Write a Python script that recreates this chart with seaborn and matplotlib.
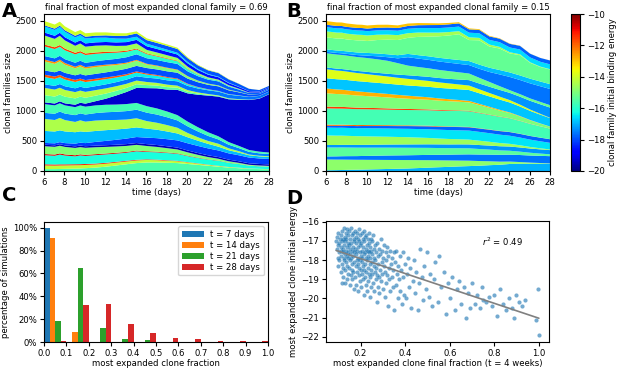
import matplotlib
matplotlib.use("Agg")
import matplotlib.pyplot as plt
import numpy as np
import pandas as pd
import seaborn as sns
from matplotlib.cm import ScalarMappable
from matplotlib.colors import Normalize
from matplotlib.ticker import PercentFormatter

# ---- panels A/B: clonal family sizes (bottom -> top) ----
days = [6, 7, 7.5, 8, 9, 9.5, 10, 11, 12, 13, 14, 15, 16, 17, 18, 19, 20, 21, 22, 23, 24, 25, 26, 27, 28]

energy_a = [-15.6, -14.2, -11.2, -16.2, -10.8, -14.9, -19.5, -18.2, -16.9, -14.4, -17.5, -15.7,
            -19.3,
            -15.5, -14.3, -17.6, -16.4, -11.8, -18.0, -15.0, -12.5, -17.8, -16.0, -11.5, -14.6,
            -18.6, -16.6, -17.9, -14.0]
sizes_a = [
    [40, 40, 42, 44, 48, 50, 55, 65, 80, 100, 120, 140, 150, 150, 145, 140, 125, 110, 95, 80, 65, 55, 45, 40, 35],
    [60, 58, 58, 57, 56, 55, 54, 52, 50, 48, 46, 44, 42, 38, 34, 30, 25, 20, 15, 12, 9, 7, 5, 4, 3],
    [20, 19, 19, 18, 17, 17, 16, 15, 14, 13, 12, 11, 10, 9, 8, 7, 6, 5, 4, 3, 2, 2, 1, 1, 1],
    [150, 145, 162, 146, 131, 145, 134, 140, 140, 136, 134, 141, 123, 122, 120, 117, 100, 90, 83, 83, 67, 58, 45, 41, 42],
    [20, 20, 20, 19, 18, 18, 17, 16, 15, 14, 13, 12, 11, 10, 9, 8, 7, 6, 5, 4, 3, 3, 2, 2, 2],
    [130, 128, 127, 125, 122, 120, 118, 115, 110, 105, 100, 95, 88, 80, 72, 64, 55, 46, 38, 30, 24, 19, 14, 12, 10],
    [25, 25, 25, 25, 26, 26, 26, 27, 28, 29, 30, 30, 31, 31, 31, 31, 31, 30, 29, 28, 27, 26, 25, 25, 25],
    [30, 33, 35, 38, 45, 48, 52, 62, 72, 82, 92, 100, 108, 114, 118, 120, 120, 118, 115, 110, 105, 100, 95, 92, 90],
    [200, 197, 196, 194, 190, 188, 186, 182, 178, 172, 166, 160, 150, 140, 128, 115, 100, 87, 75, 63, 52, 44, 38, 35, 33],
    [200, 191, 206, 189, 171, 184, 171, 173, 168, 158, 151, 152, 125, 116, 106, 95, 71, 57, 48, 48, 32, 24, 13, 10, 13],
    [100, 104, 106, 108, 113, 115, 118, 124, 130, 135, 140, 142, 140, 136, 130, 122, 110, 97, 84, 72, 60, 51, 44, 40, 36],
    [145, 140, 138, 136, 133, 132, 131, 128, 125, 121, 117, 113, 108, 102, 96, 88, 79, 70, 61, 52, 44, 37, 31, 28, 25],
    [30, 30, 32, 34, 40, 45, 50, 70, 100, 150, 200, 250, 300, 335, 365, 420, 470, 540, 610, 660, 711, 765, 830, 880, 972],
    [120, 116, 113, 111, 105, 101, 98, 92, 86, 77, 68, 61, 51, 45, 41, 35, 27, 19, 13, 10, 8, 6, 3, 2, 2],
    [120, 116, 113, 111, 105, 101, 98, 92, 86, 77, 68, 61, 51, 45, 41, 35, 27, 19, 13, 10, 8, 6, 3, 2, 2],
    [60, 61, 62, 62, 63, 64, 65, 66, 67, 68, 70, 71, 72, 72, 72, 72, 70, 66, 62, 62, 60, 55, 45, 42, 40],
    [120, 116, 113, 111, 105, 101, 98, 92, 86, 77, 68, 61, 51, 45, 41, 35, 27, 19, 13, 10, 8, 6, 3, 2, 2],
    [40, 39, 38, 37, 35, 34, 33, 31, 29, 26, 23, 20, 17, 15, 14, 12, 9, 6, 4, 3, 3, 2, 1, 1, 1],
    [70, 72, 73, 74, 76, 77, 78, 81, 84, 87, 90, 92, 92, 92, 94, 96, 85, 79, 74, 76, 62, 50, 35, 29, 30],
    [150, 140, 154, 136, 116, 127, 113, 113, 107, 94, 84, 85, 58, 54, 51, 44, 34, 23, 17, 13, 10, 7, 3, 2, 2],
    [30, 29, 28, 28, 26, 25, 25, 23, 21, 19, 17, 15, 13, 11, 10, 9, 7, 5, 3, 3, 2, 1, 1, 0, 0],
    [60, 62, 63, 64, 67, 68, 70, 74, 78, 84, 90, 92, 92, 91, 92, 93, 80, 73, 66, 66, 50, 38, 23, 17, 20],
    [160, 155, 151, 148, 140, 135, 131, 123, 115, 103, 91, 81, 68, 60, 54, 47, 37, 25, 18, 14, 11, 7, 4, 2, 2],
    [30, 29, 28, 28, 26, 25, 25, 23, 21, 19, 17, 15, 13, 11, 10, 9, 7, 5, 3, 3, 2, 1, 1, 0, 0],
    [150, 140, 154, 136, 116, 127, 113, 113, 107, 94, 84, 85, 58, 54, 51, 44, 34, 23, 17, 13, 10, 7, 3, 2, 2],
    [50, 51, 51, 52, 53, 53, 54, 55, 56, 58, 60, 60, 60, 59, 58, 57, 55, 50, 45, 40, 35, 28, 22, 18, 15],
    [100, 97, 95, 92, 87, 84, 82, 77, 72, 64, 57, 51, 42, 38, 34, 29, 23, 16, 11, 9, 7, 5, 2, 1, 1],
    [20, 22, 23, 24, 27, 28, 30, 34, 38, 44, 50, 55, 60, 62, 63, 63, 62, 60, 60, 60, 55, 48, 38, 24, 20],
    [70, 68, 66, 65, 61, 59, 57, 54, 50, 45, 40, 35, 30, 26, 24, 21, 16, 11, 8, 6, 5, 3, 2, 1, 1],
]

energy_b = [-17.0, -14.8, -17.6, -15.4, -17.3, -14.6, -16.5, -17.8, -12.0, -15.7, -11.5, -15.0,
            -12.8, -16.8, -13.8, -17.3, -15.2, -17.6, -16.9, -15.3, -14.5, -16.6, -17.8, -13.0]
sizes_b = [
    [20, 23, 25, 27, 30, 32, 34, 38, 42, 46, 50, 57, 64, 71, 77, 84, 90, 96, 105, 112, 125, 127, 128, 129, 130],
    [180, 175, 173, 170, 165, 163, 160, 155, 150, 145, 140, 132, 124, 115, 107, 98, 90, 78, 65, 52, 40, 30, 20, 12, 5],
    [50, 54, 56, 58, 61, 63, 65, 70, 74, 77, 80, 84, 88, 92, 96, 101, 105, 108, 111, 113, 115, 117, 118, 119, 120],
    [150, 147, 146, 144, 141, 139, 138, 134, 131, 128, 125, 121, 117, 112, 108, 104, 100, 92, 83, 74, 65, 56, 46, 38, 30],
    [40, 42, 43, 44, 45, 46, 47, 49, 51, 53, 55, 57, 59, 61, 62, 64, 65, 66, 67, 69, 70, 70, 70, 70, 70],
    [160, 155, 153, 150, 145, 143, 140, 135, 130, 125, 120, 113, 106, 98, 91, 85, 80, 72, 63, 54, 45, 36, 26, 18, 10],
    [130, 131, 132, 132, 133, 134, 135, 136, 137, 138, 140, 142, 144, 146, 148, 149, 150, 147, 143, 139, 135, 129, 122, 116, 110],
    [30, 32, 33, 34, 35, 36, 37, 39, 41, 43, 45, 47, 49, 50, 52, 54, 55, 56, 57, 59, 60, 60, 60, 60, 60],
    [20, 19, 18, 18, 17, 17, 16, 15, 14, 13, 12, 11, 10, 9, 8, 7, 6, 5, 5, 4, 3, 3, 2, 2, 2],
    [270, 268, 267, 266, 264, 263, 262, 260, 258, 256, 255, 256, 257, 258, 259, 260, 260, 251, 242, 234, 225, 212, 199, 186, 173],
    [30, 28, 28, 27, 26, 25, 24, 23, 21, 20, 18, 16, 14, 12, 11, 9, 8, 7, 6, 5, 4, 3, 3, 2, 2],
    [220, 214, 211, 208, 201, 198, 195, 189, 183, 176, 170, 165, 160, 155, 150, 145, 140, 126, 112, 98, 85, 71, 56, 43, 30],
    [80, 76, 74, 73, 69, 67, 65, 61, 58, 54, 50, 46, 42, 37, 33, 29, 25, 21, 17, 14, 10, 8, 6, 4, 3],
    [170, 170, 170, 170, 170, 170, 170, 170, 170, 170, 170, 172, 174, 175, 177, 178, 180, 176, 172, 169, 165, 159, 152, 146, 140],
    [150, 145, 143, 140, 135, 133, 130, 125, 120, 115, 110, 104, 98, 92, 86, 80, 75, 66, 57, 49, 40, 31, 22, 14, 5],
    [30, 31, 32, 33, 35, 36, 38, 41, 45, 52, 60, 64, 68, 72, 76, 82, 90, 96, 104, 112, 120, 132, 145, 158, 170],
    [235, 234, 233, 232, 231, 230, 230, 225, 215, 190, 160, 150, 142, 135, 128, 120, 110, 95, 80, 62, 45, 42, 40, 40, 40],
    [25, 27, 28, 29, 33, 35, 40, 50, 60, 80, 140, 140, 140, 140, 140, 140, 140, 150, 165, 195, 220, 235, 250, 260, 270],
    [40, 41, 41, 42, 43, 44, 45, 47, 49, 52, 55, 57, 59, 61, 63, 65, 67, 69, 71, 73, 75, 76, 78, 79, 80],
    [200, 199, 205, 198, 201, 204, 199, 224, 242, 253, 267, 304, 327, 356, 389, 427, 349, 404, 352, 358, 316, 337, 263, 241, 244],
    [100, 98, 97, 96, 94, 93, 91, 88, 85, 81, 77, 72, 67, 62, 57, 52, 46, 40, 33, 27, 20, 15, 10, 7, 5],
    [70, 70, 70, 71, 71, 71, 72, 72, 73, 73, 74, 74, 75, 75, 76, 76, 77, 77, 78, 78, 79, 79, 80, 80, 80],
    [40, 41, 41, 42, 42, 43, 43, 44, 45, 46, 47, 48, 50, 51, 52, 53, 55, 56, 57, 58, 60, 61, 62, 64, 65],
    [60, 59, 58, 57, 55, 54, 52, 49, 46, 43, 40, 36, 32, 28, 24, 20, 16, 13, 10, 7, 5, 3, 2, 1, 1],
]

# ---- panel C: histogram of the most expanded clone fraction ----
bin_edges = [0.0, 0.1, 0.2, 0.3, 0.4, 0.5, 0.6, 0.7, 0.8, 0.9, 1.0]
time_labels = ["t = 7 days", "t = 14 days", "t = 21 days", "t = 28 days"]
pct_t7 = [1.0, 0, 0, 0, 0, 0, 0, 0, 0, 0]
pct_t14 = [0.913, 0.087, 0, 0, 0, 0, 0, 0, 0, 0]
pct_t21 = [0.185, 0.645, 0.125, 0.03, 0.015, 0, 0, 0, 0, 0]
pct_t28 = [0.005, 0.32, 0.335, 0.16, 0.08, 0.038, 0.028, 0.011, 0.007, 0.011]

# ---- panel D: final fraction vs initial energy of the most expanded clone ----
pts_dense = [
    (0.090, -17.0), (0.093, -17.4), (0.095, -16.8), (0.097, -17.9), (0.098, -17.2), (0.100, -16.6),
    (0.100, -18.3), (0.102, -17.6), (0.104, -17.1), (0.105, -18.0), (0.108, -16.9), (0.110, -17.5),
    (0.111, -18.6), (0.112, -16.7), (0.113, -17.3), (0.114, -17.8), (0.115, -19.2), (0.116, -16.5),
    (0.117, -18.2), (0.118, -17.0), (0.119, -17.6), (0.120, -18.9), (0.121, -16.9), (0.122, -17.4),
    (0.123, -18.4), (0.124, -17.9), (0.125, -16.3), (0.126, -17.2), (0.127, -18.0), (0.128, -16.8),
    (0.129, -17.7), (0.130, -19.2), (0.131, -17.0), (0.132, -18.5), (0.133, -16.6), (0.134, -17.5),
    (0.135, -18.1), (0.136, -16.9), (0.137, -17.3), (0.138, -19.0), (0.139, -17.8), (0.140, -16.4),
    (0.141, -18.3), (0.142, -17.1), (0.143, -17.6), (0.144, -18.7), (0.145, -16.7), (0.145, -17.9),
    (0.147, -17.2), (0.148, -18.4), (0.149, -16.5), (0.150, -17.7), (0.151, -19.3), (0.152, -16.9),
    (0.153, -18.0), (0.154, -17.4), (0.155, -18.8), (0.156, -16.3), (0.157, -17.1), (0.158, -17.9),
    (0.159, -18.5), (0.160, -16.7), (0.161, -17.5), (0.162, -19.0), (0.163, -18.2), (0.164, -16.6),
    (0.165, -17.3), (0.166, -18.6), (0.167, -17.8), (0.168, -16.9), (0.169, -19.5), (0.170, -17.6),
    (0.171, -18.1), (0.172, -17.0), (0.174, -16.5), (0.175, -18.9), (0.176, -17.4), (0.177, -18.3),
    (0.178, -16.8), (0.179, -17.7), (0.180, -19.3), (0.181, -17.1), (0.182, -18.0), (0.183, -16.6),
    (0.184, -18.6), (0.185, -17.5), (0.186, -17.9), (0.187, -19.6), (0.188, -16.9), (0.189, -18.2),
    (0.190, -17.3), (0.191, -18.8), (0.192, -17.0), (0.193, -16.4), (0.194, -18.4), (0.195, -17.6),
    (0.196, -19.1), (0.197, -17.2), (0.198, -18.0), (0.199, -16.7), (0.200, -18.5), (0.200, -17.8),
    (0.202, -17.1), (0.203, -19.4), (0.204, -16.6), (0.205, -18.1), (0.206, -17.5), (0.207, -18.7),
    (0.208, -17.9), (0.209, -16.9), (0.210, -19.0), (0.211, -17.3), (0.212, -18.3), (0.213, -16.5),
    (0.214, -17.7), (0.215, -19.8), (0.216, -18.5), (0.217, -17.0), (0.218, -17.6), (0.219, -18.9),
    (0.220, -16.8), (0.221, -18.2), (0.222, -17.4), (0.223, -19.3), (0.224, -17.9), (0.225, -18.6),
    (0.226, -16.7), (0.227, -17.2), (0.229, -18.0), (0.230, -19.6), (0.231, -17.5), (0.232, -16.9),
    (0.233, -18.4), (0.234, -17.8), (0.235, -19.1), (0.236, -17.1), (0.237, -18.7), (0.238, -16.6),
    (0.239, -17.6), (0.240, -18.2), (0.241, -19.9), (0.242, -17.3), (0.243, -18.9), (0.244, -17.9),
    (0.245, -16.9), (0.246, -18.5), (0.247, -17.5), (0.248, -19.4), (0.250, -18.1), (0.251, -17.0),
    (0.252, -18.7), (0.253, -17.7), (0.255, -19.2), (0.256, -16.7), (0.258, -18.3), (0.259, -17.4),
    (0.261, -19.6), (0.262, -17.9), (0.263, -18.6), (0.265, -17.2), (0.266, -18.0), (0.268, -19.0),
    (0.269, -17.6), (0.270, -18.4), (0.272, -20.2), (0.273, -17.1), (0.275, -18.8), (0.276, -17.8),
    (0.278, -19.4), (0.279, -18.2), (0.281, -17.4), (0.283, -18.9), (0.284, -19.7), (0.286, -17.7),
    (0.288, -18.5), (0.290, -16.9), (0.292, -19.1), (0.294, -18.1), (0.296, -17.5), (0.298, -18.7),
]
pts_mid = [
    (0.300, -19.5), (0.302, -17.9), (0.304, -18.3), (0.306, -17.2), (0.308, -19.9), (0.310, -18.6),
    (0.312, -17.6), (0.314, -19.2), (0.316, -18.0), (0.318, -17.3), (0.320, -18.8), (0.322, -20.4),
    (0.324, -17.8), (0.326, -19.0), (0.328, -18.4), (0.330, -17.5), (0.333, -19.6), (0.336, -18.2),
    (0.339, -17.9), (0.342, -18.9), (0.345, -19.4), (0.347, -18.5), (0.349, -17.6), (0.350, -20.6),
    (0.353, -18.1), (0.357, -19.3), (0.360, -17.5), (0.363, -18.7), (0.366, -20.0), (0.369, -18.3),
    (0.372, -19.0), (0.375, -17.8), (0.378, -19.6), (0.381, -18.5), (0.385, -20.3), (0.388, -17.6),
    (0.392, -18.9), (0.396, -19.8), (0.400, -18.2), (0.404, -20.0), (0.408, -18.7), (0.412, -17.9),
    (0.417, -19.4), (0.422, -18.4), (0.428, -20.5), (0.433, -19.1), (0.438, -18.0), (0.444, -19.7),
    (0.450, -18.6), (0.456, -20.6), (0.462, -19.2), (0.468, -17.4), (0.474, -18.9), (0.480, -20.1),
    (0.486, -18.3), (0.492, -19.5), (0.498, -17.6), (0.505, -19.9), (0.512, -18.7), (0.520, -20.4),
    (0.528, -19.0), (0.536, -18.1), (0.545, -20.2), (0.553, -17.8), (0.562, -19.4), (0.572, -18.6),
    (0.582, -20.8), (0.592, -19.2),
]
pts_tail = [
    (0.603, -20.0), (0.612, -18.9), (0.622, -20.6), (0.632, -19.5), (0.642, -19.1), (0.652, -20.3),
    (0.662, -19.4), (0.672, -21.0), (0.680, -19.7), (0.690, -20.5), (0.700, -19.2), (0.712, -20.3),
    (0.724, -19.8), (0.736, -20.5), (0.748, -20.1), (0.745, -19.4), (0.762, -20.2), (0.776, -19.9),
    (0.790, -20.4), (0.800, -19.8), (0.812, -20.9), (0.826, -19.5), (0.840, -20.3), (0.852, -20.6),
    (0.866, -20.0), (0.880, -20.5), (0.888, -21.0), (0.896, -19.8), (0.910, -20.2), (0.924, -20.4),
    (0.940, -20.1), (0.985, -21.1), (0.995, -19.5), (1.000, -21.9),
]

sns.set_style("ticks", rc={"axes.edgecolor": "black", "text.color": "black",
                           "xtick.color": "black", "ytick.color": "black",
                           "axes.labelcolor": "black"})
plt.rcParams["font.family"] = ["DejaVu Sans"]
plt.rcParams["xtick.major.size"] = 3
plt.rcParams["ytick.major.size"] = 3
plt.rcParams["xtick.major.width"] = 0.8
plt.rcParams["ytick.major.width"] = 0.8

FS = 6.1
W, H = 617, 370
fig = plt.figure(figsize=(W / 100, H / 100), dpi=100)


def px_axes(left, top, right, bottom):
    return fig.add_axes([left / W, 1 - bottom / H, (right - left) / W, (bottom - top) / H])


cmap = plt.get_cmap("jet")
norm = Normalize(vmin=-20, vmax=-10)


def muller(ax, energies, sizes, frac):
    colors = [cmap(norm(e)) for e in energies]
    ax.stackplot(days, *sizes, colors=colors, linewidth=0, alpha=1)
    ax.set_xlim(6, 28)
    ax.set_ylim(0, 2610)
    ax.set_xticks(range(6, 29, 2))
    ax.set_yticks(range(0, 2501, 500))
    ax.set_xlabel("time (days)", fontsize=FS, labelpad=1)
    ax.set_ylabel("clonal families size", fontsize=FS, labelpad=2)
    ax.set_title(f"final fraction of most expanded clonal family = {frac}", fontsize=FS, pad=3)
    ax.tick_params(labelsize=FS, pad=2)


ax_a = px_axes(44, 14, 269, 171)
muller(ax_a, energy_a, sizes_a, "0.69")
ax_b = px_axes(326, 14, 550, 171)
muller(ax_b, energy_b, sizes_b, "0.15")

cax = px_axes(571, 14, 580, 171)
cb = fig.colorbar(ScalarMappable(norm=norm, cmap=cmap), cax=cax, ticks=range(-20, -9, 2))
cb.ax.tick_params(labelsize=FS, pad=2, length=3)
cb.set_label("clonal family initial binding energy", fontsize=FS, labelpad=2)
cb.outline.set_linewidth(0.8)

# ---- C ----
ax_c = px_axes(44, 222, 268, 342)
centers = [round(b + 0.05, 2) for b in bin_edges[:-1]]
hist_df = pd.concat([
    pd.DataFrame({"fraction": centers, "pct": vals, "time": lab})
    for vals, lab in zip([pct_t7, pct_t14, pct_t21, pct_t28], time_labels)
])
sns.histplot(data=hist_df, x="fraction", weights="pct", hue="time", hue_order=time_labels,
             bins=bin_edges, multiple="dodge", shrink=1, alpha=1, linewidth=0,
             palette=sns.color_palette("tab10", 4), ax=ax_c)
ax_c.set_xlim(0, 1)
ax_c.set_ylim(0, 1.05)
ax_c.set_xticks(np.arange(0, 1.01, 0.1))
ax_c.set_yticks(np.arange(0, 1.01, 0.2))
ax_c.yaxis.set_major_formatter(PercentFormatter(1.0, decimals=0))
ax_c.set_xlabel("most expanded clone fraction", fontsize=FS, labelpad=1)
ax_c.set_ylabel("percentage of simulations", fontsize=FS, labelpad=2)
ax_c.tick_params(labelsize=FS, pad=2)
sns.move_legend(ax_c, "upper right", title=None, fontsize=FS, frameon=True,
                handlelength=2.6, borderpad=0.4, labelspacing=0.25)
ax_c.get_legend().get_frame().set_edgecolor("0.8")

# ---- D ----
ax_d = px_axes(326, 221, 549, 342)
pts = pts_dense + pts_mid + pts_tail
d_frac = [p[0] for p in pts]
d_energy = [p[1] for p in pts]
sns.regplot(x=d_frac, y=d_energy, ci=None, color="tab:blue", ax=ax_d,
            scatter_kws=dict(s=9, alpha=0.62, linewidths=0),
            line_kws=dict(color="gray", lw=1.2))
ax_d.set_ylim(-22.27, -15.96)
ax_d.set_xticks([0.2, 0.4, 0.6, 0.8, 1.0])
ax_d.set_yticks(range(-22, -15))
ax_d.set_xlabel("most expanded clone final fraction (t = 4 weeks)", fontsize=FS, labelpad=1)
ax_d.set_ylabel("most expanded clone initial energy", fontsize=FS, labelpad=2)
ax_d.tick_params(labelsize=FS, pad=2)
ax_d.text(0.70, 0.83, r"$r^2$ = 0.49", transform=ax_d.transAxes, fontsize=FS, va="center")

for lab, x, y in [("A", 2, 2), ("B", 286, 2), ("C", 2, 186), ("D", 286, 189)]:
    fig.text(x / W, 1 - y / H, lab, fontsize=14, fontweight="bold", va="top", ha="left")

fig.savefig("out.png", dpi=100)
